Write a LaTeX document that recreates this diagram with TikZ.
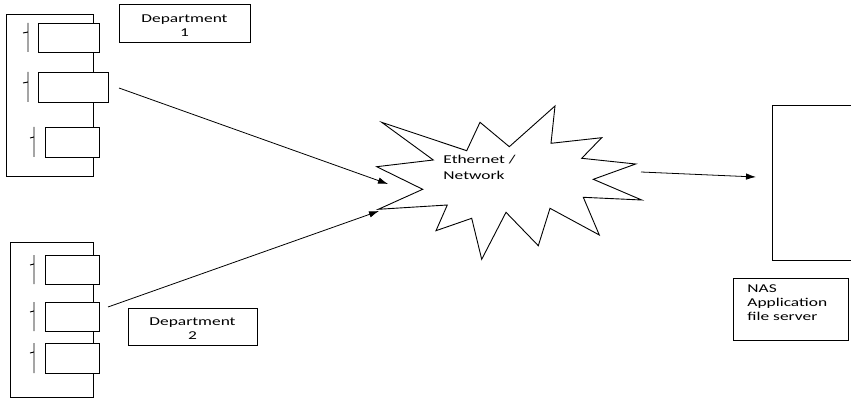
\documentclass[tikz,border=0pt]{standalone}
\usepackage{fontspec}
\setmainfont{Carlito}[FakeStretch=1.45]
\usetikzlibrary{arrows.meta}
\begin{document}
\begin{tikzpicture}[x=1pt,y=-1pt,line width=0.9pt,
  pc/.style={draw,fill=white},
  label box/.style={draw,rectangle,inner sep=0pt},
  txt/.style={font=\fontsize{12}{14}\selectfont,align=center,inner sep=0pt},
  conn/.style={line width=0.8pt,-{Latex[length=10pt,width=6.5pt]}}]
\useasboundingbox (0,0) rectangle (851,398);
% Department 1 group
\draw (6,14) rectangle (93,176);
\draw[pc] (38,23) rectangle (99,52);
\draw[pc] (38,72) rectangle (108,102);
\draw[pc] (45,127) rectangle (99,157);
\draw (28,23) -- (28,52) (23,33) -- (28,32);
\draw (28,72) -- (28,102) (23,83) -- (28,82);
\draw (34,127) -- (34,157) (30,138) -- (34,137);
% Department 2 group
\draw (10,242) rectangle (93,397);
\draw[pc] (45,255) rectangle (99,284);
\draw[pc] (45,302) rectangle (99,331);
\draw[pc] (45,343) rectangle (99,373);
\draw (34,255) -- (34,284) (30,265) -- (34,264);
\draw (34,302) -- (34,331) (30,312) -- (34,311);
\draw (34,343) -- (34,373) (30,353) -- (34,352);
% labels
\node[label box,minimum width=131pt,minimum height=38pt] (d1) at (184.5,23) {};
\node[txt] (d1t) at (184.5,26) {Department\\1};
\node[label box,minimum width=129pt,minimum height=37pt] (d2) at (192.5,326.5) {};
\node[txt] (d2t) at (192.5,329) {Department\\2};
% network star
\draw (381.7,122.3) -- (466.7,150.7) -- (480,122.3) -- (509.3,146.7) -- (555,106)
  -- (551,143.3) -- (601.7,137.7) -- (581.7,158.3) -- (635.7,164) -- (593.3,179.3)
  -- (641.7,200) -- (583.3,197.3) -- (599.3,235) -- (550,208.3) -- (538.3,245.7)
  -- (506,212.3) -- (481.7,259.3) -- (471.7,218.3) -- (436,230.7) -- (447.3,205)
  -- (378.3,209.3) -- (422.7,189.3) -- (376.7,166.7) -- (433.3,160) -- cycle;
\node[txt,align=left,anchor=north west,font=\fontsize{12}{16}\selectfont] (net) at (443,155) {Ethernet /\\Network};
% NAS
\draw (856,105) -- (772,105) -- (772,260) -- (856,260);
\node[label box,minimum width=115pt,minimum height=62pt] (nas) at (790.5,309) {};
\node[txt,align=left,anchor=north west] (nast) at (747,284) {NAS\\Application\\file server};
% connectors
\coordinate (a1s) at (119,88);
\coordinate (a1e) at (388,184);
\coordinate (a2s) at (108,307);
\coordinate (a2e) at (379,211);
\coordinate (a3s) at (641,172);
\coordinate (a3e) at (756,177);
\draw[conn] (a1s) -- (a1e);
\draw[conn] (a2s) -- (a2e);
\draw[conn] (a3s) -- (a3e);
\end{tikzpicture}
\end{document}
